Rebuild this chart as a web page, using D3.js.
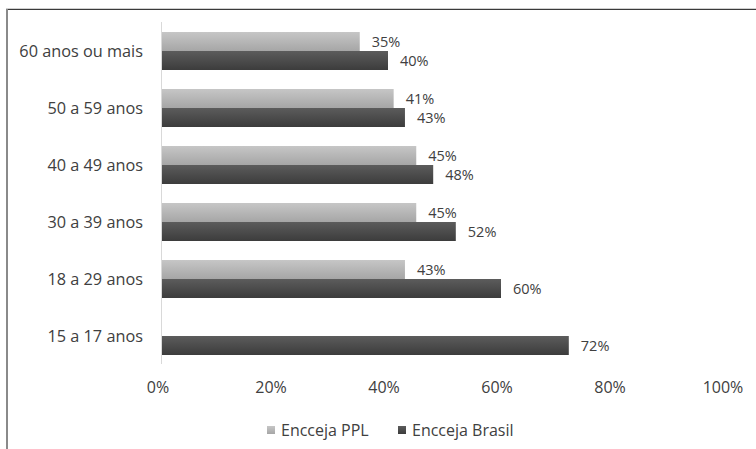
<!DOCTYPE html>
<html>
<head>
<meta charset="utf-8">
<script src="https://cdn.jsdelivr.net/npm/d3@7"></script>
<style>
  html, body { margin: 0; padding: 0; background: #fff; }
  svg { display: block; }
  text { font-family: "Open Sans", "Liberation Sans", Arial, sans-serif; fill: #404040; }
</style>
</head>
<body>
<svg id="chart" width="756" height="449"></svg>
<script>
// Faixas etárias (de cima para baixo)
const categories = ["60 anos ou mais", "50 a 59 anos", "40 a 49 anos", "30 a 39 anos", "18 a 29 anos", "15 a 17 anos"];
const seriesNames = ["Encceja PPL", "Encceja Brasil"];
const ppl = [35, 41, 45, 45, 43, null];
const brasil = [40, 43, 48, 52, 60, 72];
const xTicks = [0, 20, 40, 60, 80, 100];

const svg = d3.select("#chart");

// Moldura
svg.append("line").attr("x1", 6).attr("x2", 756).attr("y1", 8.5).attr("y2", 8.5)
  .attr("stroke", "#d0d0d0").attr("stroke-width", 1);
svg.append("line").attr("x1", 6).attr("x2", 756).attr("y1", 9.5).attr("y2", 9.5)
  .attr("stroke", "#3a3a3a").attr("stroke-width", 1.2);
svg.append("line").attr("x1", 7).attr("x2", 7).attr("y1", 9).attr("y2", 449)
  .attr("stroke", "#8a8a8a").attr("stroke-width", 2);

const x = d3.scaleLinear().domain([0, 100]).range([162, 727]);
const y = d3.scaleBand().domain(categories).range([22.5, 364.5])
  .paddingInner(1 / 3).paddingOuter(1 / 6);
const ySub = d3.scaleBand().domain(seriesNames).range([0, y.bandwidth()]);

// Gradientes das barras
const defs = svg.append("defs");
const grads = [
  { id: "gPPL", top: "#c6c6c6", bottom: "#a6a6a6" },
  { id: "gBR", top: "#5c5c5c", bottom: "#3c3c3c" }
];
grads.forEach(g => {
  const lg = defs.append("linearGradient").attr("id", g.id)
    .attr("x1", 0).attr("y1", 0).attr("x2", 0).attr("y2", 1);
  lg.append("stop").attr("offset", "0%").attr("stop-color", g.top);
  lg.append("stop").attr("offset", "100%").attr("stop-color", g.bottom);
});
const fills = { "Encceja PPL": "url(#gPPL)", "Encceja Brasil": "url(#gBR)" };

const rows = categories.map((c, i) => ({ cat: c, values: [
  { s: seriesNames[0], v: ppl[i] },
  { s: seriesNames[1], v: brasil[i] }
]}));

const groups = svg.append("g").selectAll("g").data(rows).join("g")
  .attr("transform", d => `translate(0,${y(d.cat)})`);

groups.selectAll("rect").data(d => d.values.filter(e => e.v != null)).join("rect")
  .attr("x", x(0))
  .attr("y", d => ySub(d.s))
  .attr("width", d => x(d.v) - x(0))
  .attr("height", ySub.bandwidth())
  .attr("fill", d => fills[d.s]);

groups.selectAll("text.val").data(d => d.values.filter(e => e.v != null)).join("text")
  .attr("class", "val")
  .attr("x", d => x(d.v) + 12)
  .attr("y", d => ySub(d.s) + ySub.bandwidth() / 2)
  .attr("dy", "0.35em")
  .attr("font-size", 14.5)
  .text(d => d.v + "%");

// Eixo vertical
svg.append("line").attr("x1", 161.5).attr("x2", 161.5).attr("y1", 22).attr("y2", 364)
  .attr("stroke", "#d9d9d9").attr("stroke-width", 1);

// Rótulos das categorias
svg.append("g").selectAll("text").data(categories).join("text")
  .attr("x", 143)
  .attr("y", d => y(d) + y.bandwidth() / 2)
  .attr("dy", "0.35em")
  .attr("text-anchor", "end")
  .attr("font-size", 16.3)
  .text(d => d);

// Rótulos do eixo x
svg.append("g").selectAll("text").data(xTicks).join("text")
  .attr("x", d => x(d) - 4)
  .attr("y", 387)
  .attr("dy", "0.35em")
  .attr("text-anchor", "middle")
  .attr("font-size", 16)
  .text(d => d + "%");

// Legenda
const legend = [
  { s: "Encceja PPL", x: 267 },
  { s: "Encceja Brasil", x: 398 }
];
const lg = svg.append("g").selectAll("g").data(legend).join("g")
  .attr("transform", d => `translate(${d.x},426)`);
lg.append("rect").attr("width", 8).attr("height", 8).attr("fill", d => fills[d.s]);
lg.append("text").attr("x", 14).attr("y", 4).attr("dy", "0.35em")
  .attr("font-size", 16).text(d => d.s);
</script>
</body>
</html>
